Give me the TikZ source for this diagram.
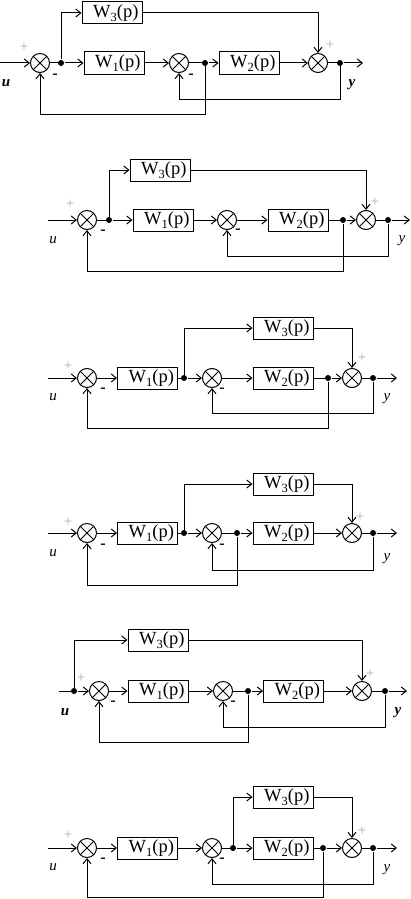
\documentclass[tikz,border=0pt]{standalone}
\usepackage{fontspec}
\setmainfont{Liberation Serif}
\usetikzlibrary{arrows.meta}
\newcommand{\tfW}[1]{W\raisebox{-0.2em}{\fontsize{12.5}{13}\selectfont #1}(p)}
\tikzset{
  sumj/.style={circle, draw, minimum size=19pt, inner sep=0pt,
    path picture={\draw (path picture bounding box.north west) -- (path picture bounding box.south east)
      (path picture bounding box.north east) -- (path picture bounding box.south west);}},
  dotj/.style={circle, fill, minimum size=6pt, inner sep=0pt},
  blk/.style={rectangle, draw, minimum width=60pt, minimum height=22pt, text width=53pt,
    align=right, inner xsep=3.5pt, inner ysep=0pt, font=\fontsize{18.5}{20}\selectfont},
  plus/.style={inner sep=0pt, text=gray!65, font=\fontsize{15}{15}\selectfont},
  minus/.style={inner sep=0pt, font=\fontsize{16}{16}\selectfont\bfseries},
  sig/.style={inner sep=0pt, font=\fontsize{15}{15}\selectfont\itshape},
  sigb/.style={inner sep=0pt, font=\fontsize{15}{15}\selectfont\itshape\bfseries},
  >={Straight Barb[length=5pt,width=8pt]},
  every path/.style={line width=1pt}
}
\begin{document}
\begin{tikzpicture}[x=1pt,y=-1pt]
\useasboundingbox (0,0) rectangle (411,899);
% ================= Diagram 1 =================
\coordinate (a1in) at (0,63);
\node[sumj] (a1s1) at (40,63) {};
\node[dotj] (a1d1) at (61,63) {};
\node[blk] (a1w1) at (114,63) {\tfW{1}};
\node[sumj] (a1s2) at (179,63) {};
\node[dotj] (a1d2) at (205,63) {};
\node[blk] (a1w2) at (249,63) {\tfW{2}};
\node[sumj] (a1s3) at (318,63) {};
\node[dotj] (a1d3) at (340,63) {};
\coordinate (a1out) at (363,63);
\node[blk] (a1w3) at (112,13) {\tfW{3}};
\coordinate (a1fi) at (340,99);
\coordinate (a1fo) at (205,114);
\draw[->] (a1in) -- (a1s1);
\draw (a1s1) -- (a1d1);
\draw[->] (a1d1) -- (a1w1);
\draw[->] (a1w1) -- (a1s2);
\draw (a1s2) -- (a1d2);
\draw[->] (a1d2) -- (a1w2);
\draw[->] (a1w2) -- (a1s3);
\draw (a1s3) -- (a1d3);
\draw[->] (a1d3) -- (a1out);
\draw[->] (a1d1) |- (a1w3);
\draw[->] (a1w3) -| (a1s3);
\draw[->] (a1d3) -- (a1fi) -| (a1s2);
\draw[->] (a1d2) -- (a1fo) -| (a1s1);
\node[plus] (a1p1) at (24,47) {+};
\node[minus] (a1m1) at (55,76) {-};
\node[minus] (a1m2) at (191,76) {-};
\node[plus] (a1p3) at (330,45) {+};
\node[sigb] (a1u) at (6,83) {u};
\node[sigb] (a1y) at (352,85) {y};
% ================= Diagram 2 =================
\coordinate (a2in) at (48,220);
\node[sumj] (a2s1) at (87,220) {};
\node[dotj] (a2d1) at (109,220) {};
\node[blk] (a2w1) at (163,220) {\tfW{1}};
\node[sumj] (a2s2) at (227,220) {};
\node[blk] (a2w2) at (298,220) {\tfW{2}};
\node[dotj] (a2d2) at (343,220) {};
\node[sumj] (a2s3) at (366,220) {};
\node[dotj] (a2d3) at (388,220) {};
\coordinate (a2out) at (410,220);
\node[blk] (a2w3) at (160,170) {\tfW{3}};
\coordinate (a2fi) at (388,256);
\coordinate (a2fo) at (343,271);
\draw[->] (a2in) -- (a2s1);
\draw (a2s1) -- (a2d1);
\draw[->] (a2d1) -- (a2w1);
\draw[->] (a2w1) -- (a2s2);
\draw[->] (a2s2) -- (a2w2);
\draw (a2w2) -- (a2d2);
\draw[->] (a2d2) -- (a2s3);
\draw (a2s3) -- (a2d3);
\draw[->] (a2d3) -- (a2out);
\draw[->] (a2d1) |- (a2w3);
\draw[->] (a2w3) -| (a2s3);
\draw[->] (a2d3) -- (a2fi) -| (a2s2);
\draw[->] (a2d2) -- (a2fo) -| (a2s1);
\node[plus] (a2p1) at (70,204) {+};
\node[minus] (a2m1) at (103,232) {-};
\node[minus] (a2m2) at (238,231) {-};
\node[plus] (a2p3) at (375,202) {+};
\node[sig] (a2u) at (53,240) {u};
\node[sig] (a2y) at (402,241) {y};
% ================= Diagram 3 =================
\coordinate (a3in) at (48,378);
\node[sumj] (a3s1) at (87,378) {};
\node[blk] (a3w1) at (147.5,378) {\tfW{1}};
\node[dotj] (a3d1) at (184,378) {};
\node[sumj] (a3s2) at (212,378) {};
\node[blk] (a3w2) at (283,378) {\tfW{2}};
\node[dotj] (a3d2) at (328,378) {};
\node[sumj] (a3s3) at (352,378) {};
\node[dotj] (a3d3) at (373,378) {};
\coordinate (a3out) at (397,378);
\node[blk] (a3w3) at (283,328) {\tfW{3}};
\coordinate (a3fi) at (373,413);
\coordinate (a3fo) at (328,428);
\draw[->] (a3in) -- (a3s1);
\draw[->] (a3s1) -- (a3w1);
\draw (a3w1) -- (a3d1);
\draw[->] (a3d1) -- (a3s2);
\draw[->] (a3s2) -- (a3w2);
\draw (a3w2) -- (a3d2);
\draw[->] (a3d2) -- (a3s3);
\draw (a3s3) -- (a3d3);
\draw[->] (a3d3) -- (a3out);
\draw[->] (a3d1) |- (a3w3);
\draw[->] (a3w3) -| (a3s3);
\draw[->] (a3d3) -- (a3fi) -| (a3s2);
\draw[->] (a3d2) -- (a3fo) -| (a3s1);
\node[plus] (a3p1) at (68,366) {+};
\node[minus] (a3m1) at (103,390) {-};
\node[minus] (a3m2) at (222,390) {-};
\node[plus] (a3p3) at (362,358) {+};
\node[sig] (a3u) at (53,397) {u};
\node[sig] (a3y) at (387,399) {y};
% ================= Diagram 4 =================
\coordinate (a4in) at (48,533);
\node[sumj] (a4s1) at (87,533) {};
\node[blk] (a4w1) at (147.5,533) {\tfW{1}};
\node[dotj] (a4d1) at (184,533) {};
\node[sumj] (a4s2) at (212,533) {};
\node[dotj] (a4d2) at (237,533) {};
\node[blk] (a4w2) at (283,533) {\tfW{2}};
\node[sumj] (a4s3) at (352,533) {};
\node[dotj] (a4d3) at (373,533) {};
\coordinate (a4out) at (397,533);
\node[blk] (a4w3) at (283,484) {\tfW{3}};
\coordinate (a4fi) at (373,570);
\coordinate (a4fo) at (237,585);
\draw[->] (a4in) -- (a4s1);
\draw[->] (a4s1) -- (a4w1);
\draw (a4w1) -- (a4d1);
\draw[->] (a4d1) -- (a4s2);
\draw (a4s2) -- (a4d2);
\draw[->] (a4d2) -- (a4w2);
\draw[->] (a4w2) -- (a4s3);
\draw (a4s3) -- (a4d3);
\draw[->] (a4d3) -- (a4out);
\draw[->] (a4d1) |- (a4w3);
\draw[->] (a4w3) -| (a4s3);
\draw[->] (a4d3) -- (a4fi) -| (a4s2);
\draw[->] (a4d2) -- (a4fo) -| (a4s1);
\node[plus] (a4p1) at (68,522) {+};
\node[minus] (a4m1) at (103,546) {-};
\node[minus] (a4m2) at (222,546) {-};
\node[plus] (a4p3) at (360,517) {+};
\node[sig] (a4u) at (53,553) {u};
\node[sig] (a4y) at (387,559) {y};
% ================= Diagram 5 =================
\coordinate (a5in) at (59,691);
\node[dotj] (a5d0) at (74,691) {};
\node[sumj] (a5s1) at (99,691) {};
\node[blk] (a5w1) at (158,691) {\tfW{1}};
\node[sumj] (a5s2) at (223,691) {};
\node[dotj] (a5d2) at (248,691) {};
\node[blk] (a5w2) at (293.5,691) {\tfW{2}};
\node[sumj] (a5s3) at (362,691) {};
\node[dotj] (a5d3) at (385,691) {};
\coordinate (a5out) at (407,691);
\node[blk] (a5w3) at (158,640) {\tfW{3}};
\coordinate (a5fi) at (385,727);
\coordinate (a5fo) at (248,742);
\draw (a5in) -- (a5d0);
\draw[->] (a5d0) -- (a5s1);
\draw[->] (a5s1) -- (a5w1);
\draw[->] (a5w1) -- (a5s2);
\draw (a5s2) -- (a5d2);
\draw[->] (a5d2) -- (a5w2);
\draw[->] (a5w2) -- (a5s3);
\draw (a5s3) -- (a5d3);
\draw[->] (a5d3) -- (a5out);
\draw[->] (a5d0) |- (a5w3);
\draw[->] (a5w3) -| (a5s3);
\draw[->] (a5d3) -- (a5fi) -| (a5s2);
\draw[->] (a5d2) -- (a5fo) -| (a5s1);
\node[plus] (a5p1) at (81,678) {+};
\node[minus] (a5m1) at (113,703) {-};
\node[minus] (a5m2) at (233,703) {-};
\node[plus] (a5p3) at (370,674) {+};
\node[sigb] (a5u) at (65,712) {u};
\node[sigb] (a5y) at (398,713) {y};
% ================= Diagram 6 =================
\coordinate (a6in) at (48,848);
\node[sumj] (a6s1) at (87,848) {};
\node[blk] (a6w1) at (147.5,848) {\tfW{1}};
\node[sumj] (a6s2) at (212,848) {};
\node[dotj] (a6d1) at (233,848) {};
\node[blk] (a6w2) at (283,848) {\tfW{2}};
\node[dotj] (a6d2) at (323,848) {};
\node[sumj] (a6s3) at (352,848) {};
\node[dotj] (a6d3) at (373,848) {};
\coordinate (a6out) at (397,848);
\node[blk] (a6w3) at (283,797) {\tfW{3}};
\coordinate (a6fi) at (373,884);
\coordinate (a6fo) at (323,897.5);
\draw[->] (a6in) -- (a6s1);
\draw[->] (a6s1) -- (a6w1);
\draw[->] (a6w1) -- (a6s2);
\draw (a6s2) -- (a6d1);
\draw[->] (a6d1) -- (a6w2);
\draw (a6w2) -- (a6d2);
\draw[->] (a6d2) -- (a6s3);
\draw (a6s3) -- (a6d3);
\draw[->] (a6d3) -- (a6out);
\draw[->] (a6d1) |- (a6w3);
\draw[->] (a6w3) -| (a6s3);
\draw[->] (a6d3) -- (a6fi) -| (a6s2);
\draw[->] (a6d2) -- (a6fo) -| (a6s1);
\node[plus] (a6p1) at (68,835) {+};
\node[minus] (a6m1) at (103,860) {-};
\node[minus] (a6m2) at (222,860) {-};
\node[plus] (a6p3) at (362,831) {+};
\node[sig] (a6u) at (53,867) {u};
\node[sig] (a6y) at (387,870) {y};
\end{tikzpicture}
\end{document}
